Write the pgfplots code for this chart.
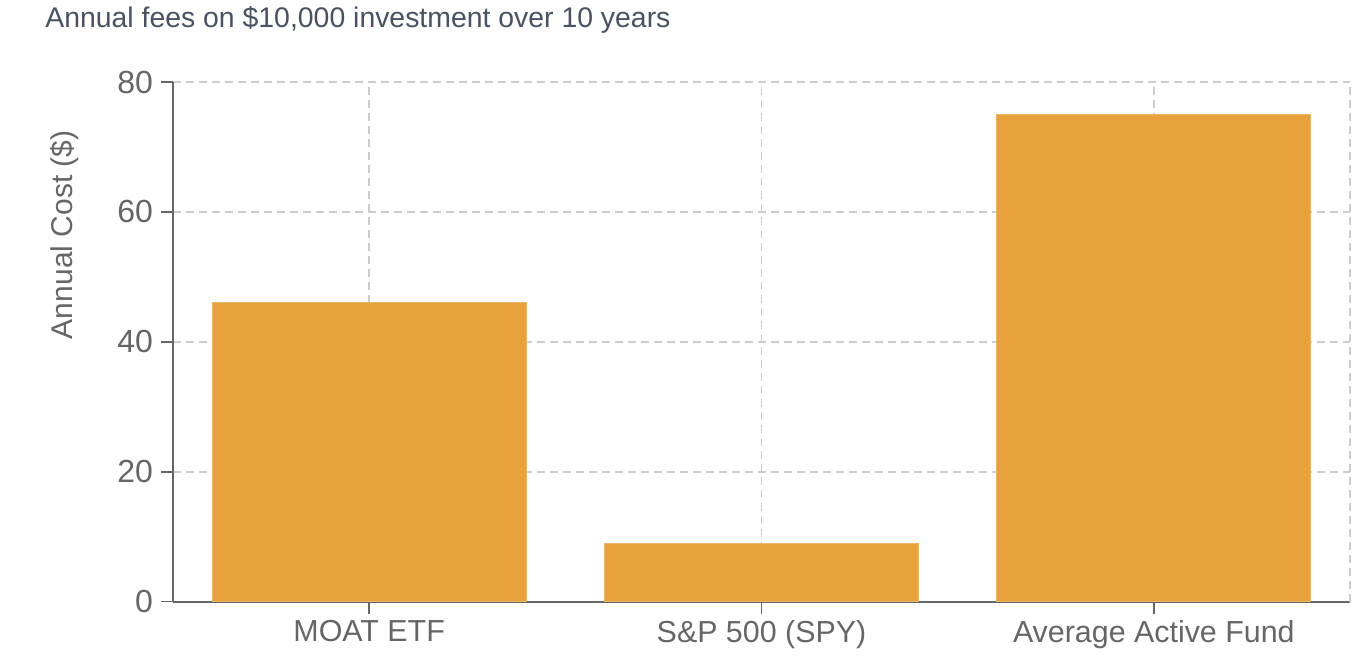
\documentclass[border=0pt]{standalone}
\usepackage{pgfplots}
\pgfplotsset{compat=1.18}
\usepackage{fontspec}
\setmainfont{Liberation Sans}
\definecolor{barc}{HTML}{E8A23C}
\definecolor{axc}{HTML}{666666}
\definecolor{gridc}{HTML}{CCCCCC}
\definecolor{titc}{HTML}{4A5160}
\begin{document}
\begin{tikzpicture}
\useasboundingbox (-86.5pt,-29.65pt) rectangle (592pt,300.85pt);
\begin{axis}[
  scale only axis, width=588.5pt, height=259.85pt,
  anchor=south west, at={(0pt,0pt)},
  xmin=-0.5, xmax=2.5, ymin=0, ymax=80,
  axis lines=left,
  axis line style={axc, line width=1pt, -},
  xtick={0,1,2},
  xticklabels={MOAT ETF, S\&P 500 (SPY), Average Active Fund},
  ytick={0,20,40,60,80},
  extra x ticks={2.5}, extra x tick labels={},
  extra x tick style={major tick length=0pt},
  tick align=outside, major tick length=6pt,
  tick style={axc, line width=0.75pt},
  xmajorgrids, ymajorgrids,
  grid style={gridc, line width=0.75pt, dash pattern=on 4pt off 2.5pt},
  /pgf/number format/assume math mode=true,
  ticklabel style={text=axc},
  yticklabel style={font=\fontsize{16}{19}\selectfont, xshift=-0.5pt},
  xticklabel style={font=\fontsize{15.2}{18}\selectfont, yshift=0pt},
  ylabel={Annual Cost (\$)},
  ylabel style={at={(axis description cs:-0.0918,0.706)}, anchor=center, font=\fontsize{15}{18}\selectfont, text=axc},
  title={Annual fees on \$10,000 investment over 10 years},
  title style={at={(axis description cs:-0.1088,1.081)}, anchor=base west, inner sep=0pt, font=\fontsize{14.2}{17}\selectfont, text=titc},
  ybar, bar width=0.8,
]
\addplot[fill=barc, draw=barc!80!white, line width=0.4pt] coordinates {(0,46) (1,9) (2,75)};
\end{axis}
\end{tikzpicture}
\end{document}
